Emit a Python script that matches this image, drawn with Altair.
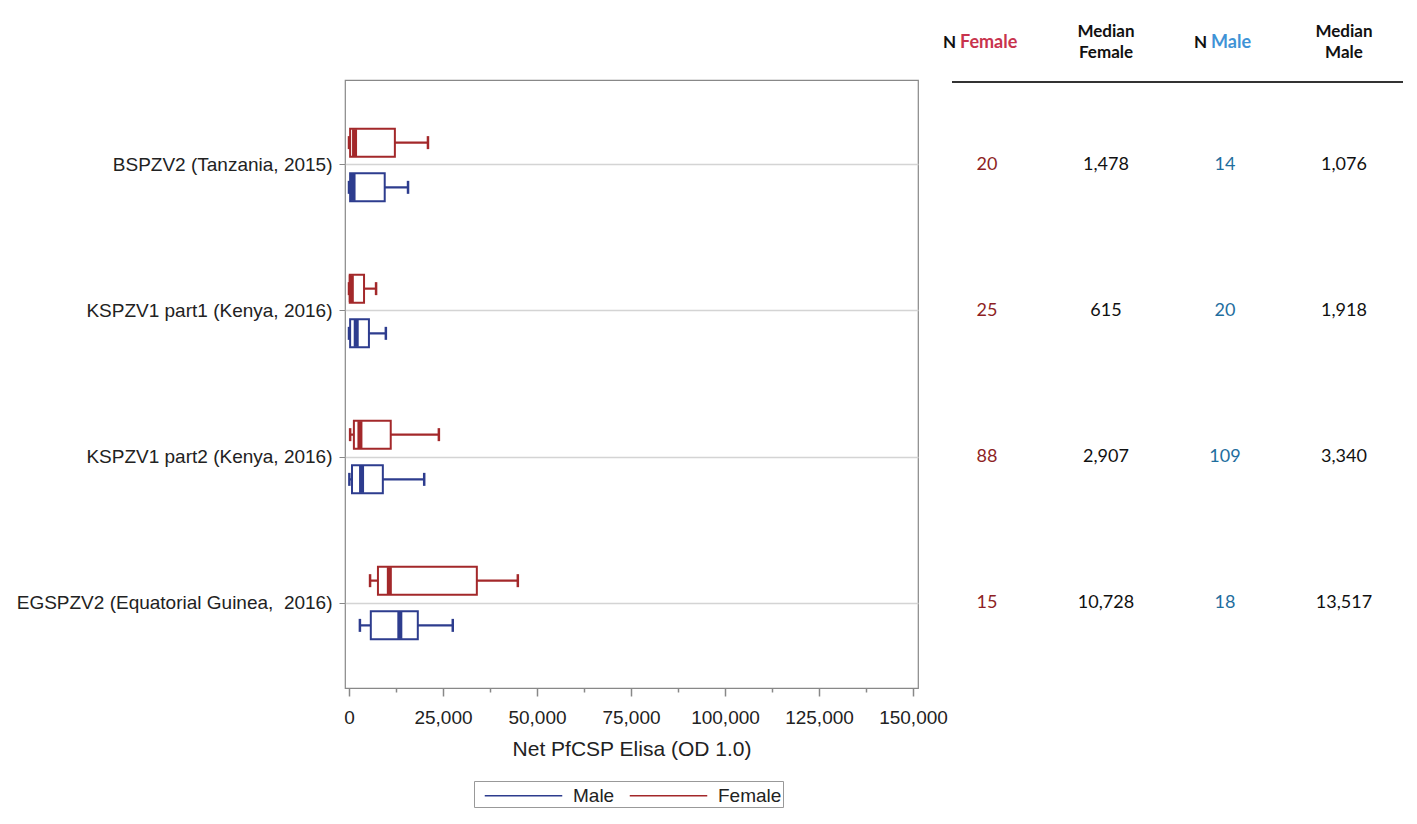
import altair as alt
import pandas as pd

studies = [
    "BSPZV2 (Tanzania, 2015)",
    "KSPZV1 part1 (Kenya, 2016)",
    "KSPZV1 part2 (Kenya, 2016)",
    "EGSPZV2 (Equatorial Guinea,\u00a0 2016)",
]
sexes = ["Female", "Male"]

f_low = [0, 0, 300, 5600]
f_q1 = [300, 200, 1300, 7700]
f_med = [1478, 615, 2907, 10728]
f_q3 = [12200, 4000, 11100, 34000]
f_high = [21000, 7200, 23900, 44900]

m_low = [0, 0, 100, 2900]
m_q1 = [300, 300, 800, 5800]
m_med = [1076, 1918, 3340, 13517]
m_q3 = [9500, 5300, 9000, 18300]
m_high = [15700, 9800, 20000, 27600]

n_female = [20, 25, 88, 15]
n_male = [14, 20, 109, 18]

x_ticks = [0, 12500, 25000, 37500, 50000, 62500, 75000, 87500,
           100000, 112500, 125000, 137500, 150000]

table_cols = ["NF", "MF", "NM", "MM"]

FEMALE = "#a3282a"
MALE = "#2d3c8e"
N_FEMALE = "#8e1f24"
N_MALE = "#1f6e9e"
HDR_FEMALE = "#c8334d"
HDR_MALE = "#3f93d6"
AXIS_FONT = "Liberation Sans"
TABLE_FONT = "Lato"

rows = []
for i, s in enumerate(studies):
    rows.append(dict(study=s, sex="Female", lo=f_low[i], q1=f_q1[i], med=f_med[i], q3=f_q3[i], hi=f_high[i]))
    rows.append(dict(study=s, sex="Male", lo=m_low[i], q1=m_q1[i], med=m_med[i], q3=m_q3[i], hi=m_high[i]))
box_df = pd.DataFrame(rows)

tab_rows = []
for i, s in enumerate(studies):
    tab_rows.append(dict(study=s, col="NF", txt=str(n_female[i])))
    tab_rows.append(dict(study=s, col="MF", txt=f"{f_med[i]:,}"))
    tab_rows.append(dict(study=s, col="NM", txt=str(n_male[i])))
    tab_rows.append(dict(study=s, col="MM", txt=f"{m_med[i]:,}"))
tab_df = pd.DataFrame(tab_rows)

W, H = 573, 608

y_scale = alt.Scale(domain=studies, paddingInner=0, paddingOuter=0.082)
y_enc = alt.Y(
    "study:N", sort=studies, scale=y_scale,
    axis=alt.Axis(
        title=None, labelFont=AXIS_FONT, labelFontSize=19, labelColor="#222",
        labelLimit=500, labelPadding=7, tickSize=6, tickColor="#888",
        domain=False, grid=True, gridColor="#d4d4d4", gridWidth=1.5,
    ),
)
yoff = alt.YOffset("sex:N", scale=alt.Scale(domain=sexes, paddingInner=0, paddingOuter=0.633))
x_scale = alt.Scale(domain=[-1064, 151330], nice=False, zero=False)

color_scale = alt.Scale(domain=["Male", "Female"], range=[MALE, FEMALE])

base = alt.Chart(box_df)

whisker = base.mark_rule(strokeWidth=2.2).encode(
    x=alt.X(
        "lo:Q", scale=x_scale,
        axis=alt.Axis(
            title="Net PfCSP Elisa (OD 1.0)", values=x_ticks,
            labelExpr="datum.value % 25000 == 0 ? format(datum.value, ',') : ''",
            labelFont=AXIS_FONT, labelFontSize=19, labelColor="#222",
            titleFont=AXIS_FONT, titleFontSize=21, titleFontWeight="normal",
            titleColor="#222",
            tickSize={"condition": {"test": "datum.value % 25000 === 0", "value": 8}, "value": 4},
            tickColor="#888", tickWidth=1.5, domain=False,
            grid=False, labelPadding=12, titlePadding=11,
        ),
    ),
    x2="hi:Q",
    y=y_enc,
    yOffset=yoff,
    color=alt.Color(
        "sex:N", scale=color_scale,
        legend=alt.Legend(
            title=None, orient="none", legendX=129, legendY=701,
            direction="horizontal", labelFont=AXIS_FONT, labelFontSize=19,
            labelColor="#222", symbolType="M-3.1,0H3.1", symbolSize=625,
            symbolStrokeWidth=1.5, strokeColor="#999", padding=1,
            symbolOffset=35, labelOffset=36, columnPadding=5,
        ),
    ),
)

box = base.mark_bar(fill="white", strokeWidth=2, size=28).encode(
    x="q1:Q", x2="q3:Q", y=y_enc, yOffset=yoff,
    stroke=alt.Stroke("sex:N", scale=color_scale, legend=None),
)

cap_lo = base.mark_tick(thickness=2.5, size=13, opacity=1).encode(
    x="lo:Q", y=y_enc, yOffset=yoff, color=alt.Color("sex:N", scale=color_scale, legend=None)
)
cap_hi = base.mark_tick(thickness=2.5, size=13, opacity=1).encode(
    x="hi:Q", y=y_enc, yOffset=yoff, color=alt.Color("sex:N", scale=color_scale, legend=None)
)
median = base.mark_tick(thickness=5, size=27, opacity=1).encode(
    x="med:Q", y=y_enc, yOffset=yoff, color=alt.Color("sex:N", scale=color_scale, legend=None)
)

left = alt.layer(whisker, box, cap_lo, cap_hi, median).properties(
    width=W, height=H, view=alt.ViewBackground(stroke="#888", strokeWidth=1.2)
)

# ---- right-hand table ----
TW = 441
tx = alt.X("col:N", sort=table_cols,
           scale=alt.Scale(domain=table_cols, type="point", padding=0.353), axis=None)
ty = alt.Y("study:N", sort=studies,
           scale=alt.Scale(domain=studies, type="point", padding=0.582), axis=None)

values = alt.Chart(tab_df).mark_text(font=TABLE_FONT, fontSize=18).encode(
    x=tx, y=ty, text="txt:N",
    color=alt.Color("col:N", scale=alt.Scale(domain=table_cols, range=[N_FEMALE, "#111", N_MALE, "#111"]), legend=None),
)

hdr_median = pd.DataFrame({"col": ["MF", "MM"], "txt": ["Median\nFemale", "Median\nMale"]})
hdr_nf = pd.DataFrame({"col": ["NF"], "n": ["N"], "w": ["Female"]})
hdr_nm = pd.DataFrame({"col": ["NM"], "n": ["N"], "w": ["Male"]})

HFS = 17
h_med = alt.Chart(hdr_median).mark_text(
    font=TABLE_FONT, fontSize=HFS, fontWeight="bold", lineBreak="\n", lineHeight=21, color="#111"
).encode(x=tx, y=alt.value(-48), text="txt:N")

h_nf_n = alt.Chart(hdr_nf).mark_text(font=TABLE_FONT, fontSize=HFS, fontWeight="bold", align="right", dx=-31, color="#111").encode(
    x=tx, y=alt.value(-37), text="n:N")
h_nf_w = alt.Chart(hdr_nf).mark_text(font=TABLE_FONT, fontSize=18, fontWeight="bold", align="left", dx=-27, color=HDR_FEMALE).encode(
    x=tx, y=alt.value(-37), text="w:N")
h_nm_n = alt.Chart(hdr_nm).mark_text(font=TABLE_FONT, fontSize=HFS, fontWeight="bold", align="right", dx=-18, color="#111").encode(
    x=tx, y=alt.value(-37), text="n:N")
h_nm_w = alt.Chart(hdr_nm).mark_text(font=TABLE_FONT, fontSize=18, fontWeight="bold", align="left", dx=-14, color=HDR_MALE).encode(
    x=tx, y=alt.value(-37), text="w:N")

hdr_line = alt.Chart(pd.DataFrame({"a": [0]})).mark_rule(color="#333", strokeWidth=2).encode(
    x=alt.value(7), x2=alt.value(458), y=alt.value(2)
)

right = alt.layer(values, h_med, h_nf_n, h_nf_w, h_nm_n, h_nm_w, hdr_line).properties(
    width=TW, height=H, view=alt.ViewBackground(strokeWidth=0)
)

chart = alt.hconcat(left, right, spacing=27, bounds="flush").resolve_scale(
    color="independent"
).properties(
    padding={"left": 7, "top": 15, "right": 0, "bottom": 3},
    background="white",
)

chart.save("out.html", embed_options={"renderer": "svg", "actions": False})
